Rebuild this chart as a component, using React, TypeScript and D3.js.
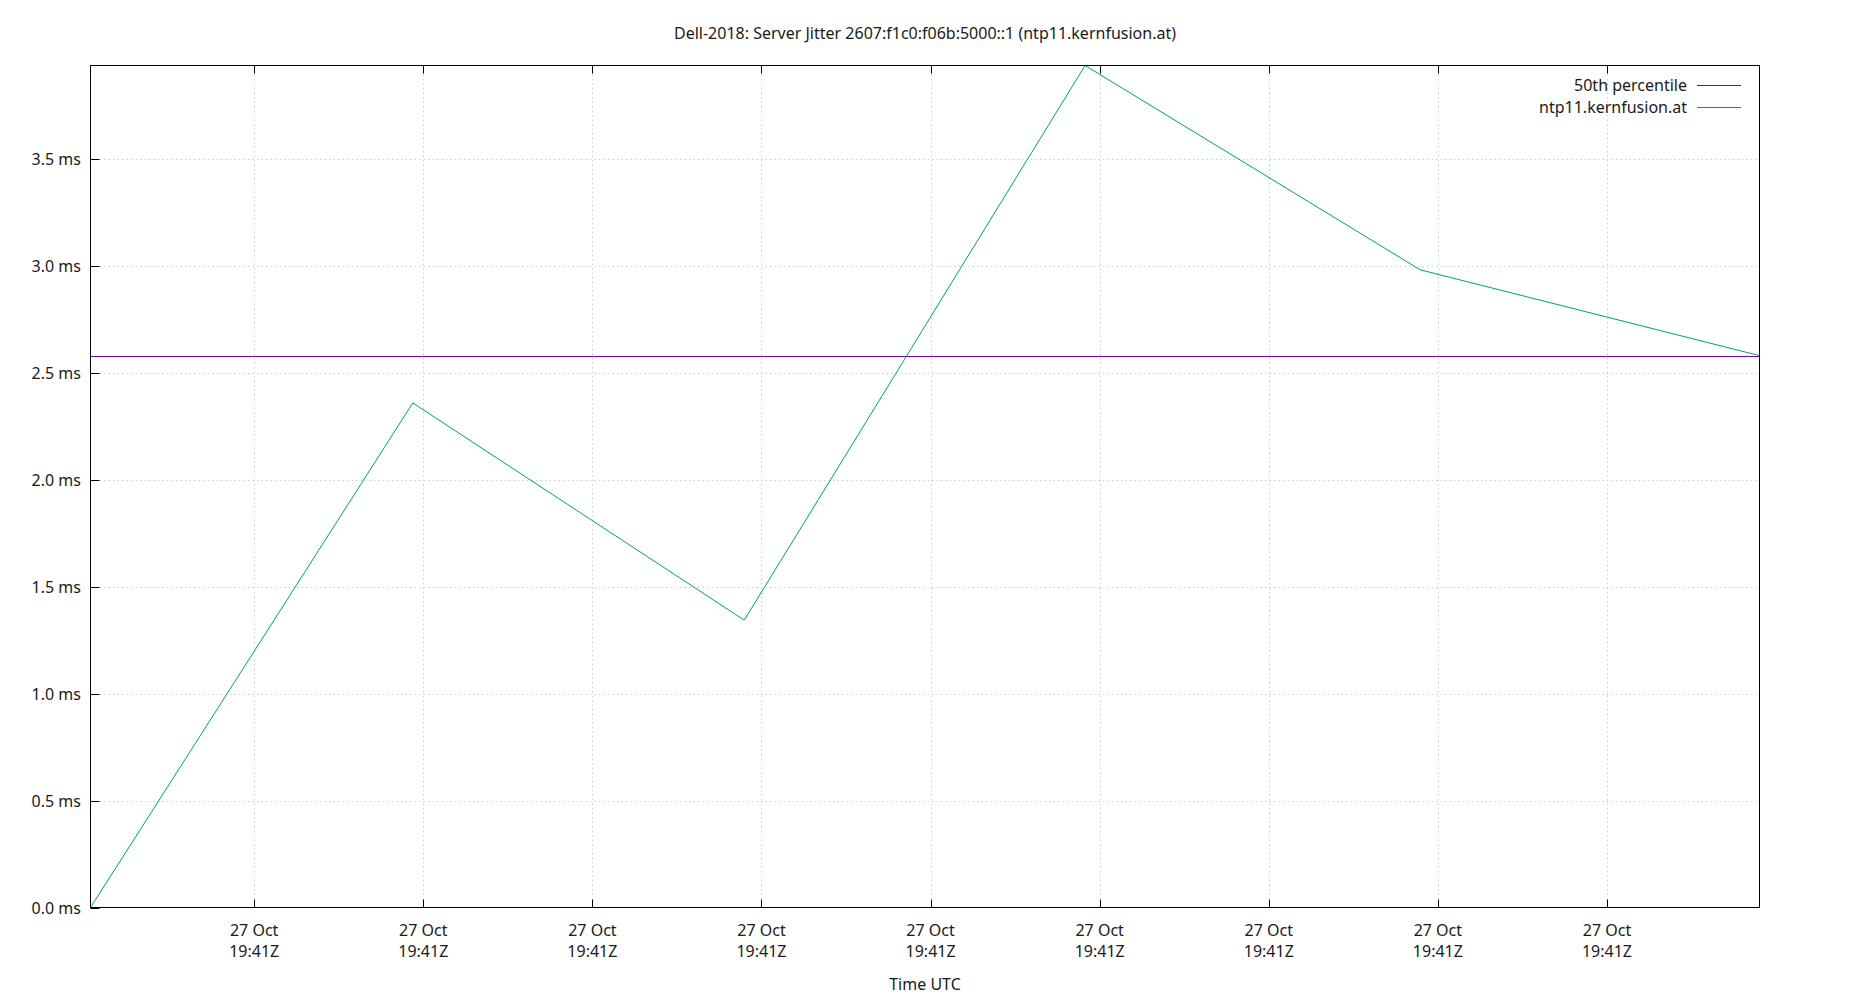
import React, { useEffect, useRef } from "react";
import * as d3 from "d3";

const TITLE = "Dell-2018: Server Jitter 2607:f1c0:f06b:5000::1 (ntp11.kernfusion.at)";
const X_LABEL = "Time UTC";
// seconds after 2018-10-27T19:41:00Z
const jitterTimes = [0.16, 9.69, 19.49, 29.57, 39.48, 49.51];
const jitterValues = [0.0, 2.358, 1.343, 3.935, 2.98, 2.579];
const medianValue = 2.579;
const yTicks = [0, 0.5, 1.0, 1.5, 2.0, 2.5, 3.0, 3.5];
const xTickSeconds = [5, 10, 15, 20, 25, 30, 35, 40, 45];
const seriesNames = ["50th percentile", "ntp11.kernfusion.at"];
const seriesColors = ["#7a00b4", "#009e73"];

const BASE = Date.UTC(2018, 9, 27, 19, 41, 0);
const toDate = (s: number) => new Date(BASE + s * 1000);

export default function App() {
  const ref = useRef<SVGSVGElement | null>(null);
  useEffect(() => {
    const svg = d3.select(ref.current);
    svg.selectAll("*").remove();
    const W = 1850, H = 1000;
    const m = { left: 90.5, right: 1759.5, top: 65.5, bottom: 907.5 };
    const font = "'Noto Sans', sans-serif";
    const fs = 16;

    const x = d3.scaleUtc()
      .domain([toDate(jitterTimes[0]), toDate(jitterTimes[jitterTimes.length - 1])])
      .range([m.left, m.right]);
    const y = d3.scaleLinear()
      .domain([0, d3.max(jitterValues) as number])
      .range([m.bottom, m.top]);

    svg.append("rect").attr("width", W).attr("height", H).attr("fill", "white");

    const xTicks = xTickSeconds.map(toDate);
    const fmtD = d3.utcFormat("%d %b");
    const fmtT = d3.utcFormat("%H:%MZ");

    // grid
    const grid = svg.append("g").attr("stroke", "#cccccc").attr("stroke-width", 1).attr("stroke-dasharray", "1.5,3");
    yTicks.forEach((v) => {
      if (v === 0) return;
      const yy = Math.round(y(v)) + 0.5;
      grid.append("line").attr("x1", m.left + 9).attr("x2", m.right).attr("y1", yy).attr("y2", yy);
    });
    xTicks.forEach((d) => {
      const xx = Math.round(x(d)) + 0.5;
      grid.append("line").attr("x1", xx).attr("x2", xx).attr("y1", m.top + 9).attr("y2", m.bottom - 9);
    });

    // median line
    const my = Math.round(y(medianValue)) + 0.5;
    svg.append("line")
      .attr("x1", m.left).attr("x2", m.right)
      .attr("y1", my).attr("y2", my)
      .attr("stroke", seriesColors[0]).attr("stroke-width", 1);

    // jitter line
    const line = d3.line<number>()
      .x((_, i) => x(toDate(jitterTimes[i])))
      .y((v) => y(v));
    svg.append("path").attr("d", line(jitterValues) as string)
      .attr("fill", "none").attr("stroke", seriesColors[1]).attr("stroke-width", 1);

    // axes border
    svg.append("rect").attr("x", m.left).attr("y", m.top)
      .attr("width", m.right - m.left).attr("height", m.bottom - m.top)
      .attr("fill", "none").attr("stroke", "black").attr("stroke-width", 1);

    // ticks
    const tk = svg.append("g").attr("stroke", "black").attr("stroke-width", 1);
    yTicks.forEach((v) => {
      const yy = Math.round(y(v)) + 0.5;
      tk.append("line").attr("x1", m.left).attr("x2", m.left + 9).attr("y1", yy).attr("y2", yy);
    });
    xTicks.forEach((d) => {
      const xx = Math.round(x(d)) + 0.5;
      tk.append("line").attr("x1", xx).attr("x2", xx).attr("y1", m.bottom).attr("y2", m.bottom - 8);
      tk.append("line").attr("x1", xx).attr("x2", xx).attr("y1", m.top).attr("y2", m.top + 8);
    });

    // labels
    const txt = svg.append("g").attr("font-family", font).attr("font-size", fs).attr("fill", "#1a1a1a");
    yTicks.forEach((v) => {
      txt.append("text").attr("x", 81).attr("y", y(v) + 6).attr("text-anchor", "end")
        .text(`${v.toFixed(1)} ms`);
    });
    xTicks.forEach((d) => {
      txt.append("text").attr("x", x(d)).attr("y", 936).attr("text-anchor", "middle").text(fmtD(d));
      txt.append("text").attr("x", x(d)).attr("y", 957).attr("text-anchor", "middle").text(fmtT(d));
    });
    txt.append("text").attr("x", (m.left + m.right) / 2).attr("y", 990).attr("text-anchor", "middle").text(X_LABEL);
    txt.append("text").attr("x", (m.left + m.right) / 2).attr("y", 39).attr("text-anchor", "middle").text(TITLE);

    // legend
    seriesNames.forEach((name, i) => {
      const yy = 85 + i * 22;
      txt.append("text").attr("x", 1687).attr("y", yy + 6).attr("text-anchor", "end").text(name);
      svg.append("line").attr("x1", 1697).attr("x2", 1741).attr("y1", yy + 0.5).attr("y2", yy + 0.5)
        .attr("stroke", seriesColors[i]).attr("stroke-width", 1);
    });
  }, []);
  return <svg ref={ref} width={1850} height={1000} style={{ display: "block", margin: "-8px" }} />;
}
